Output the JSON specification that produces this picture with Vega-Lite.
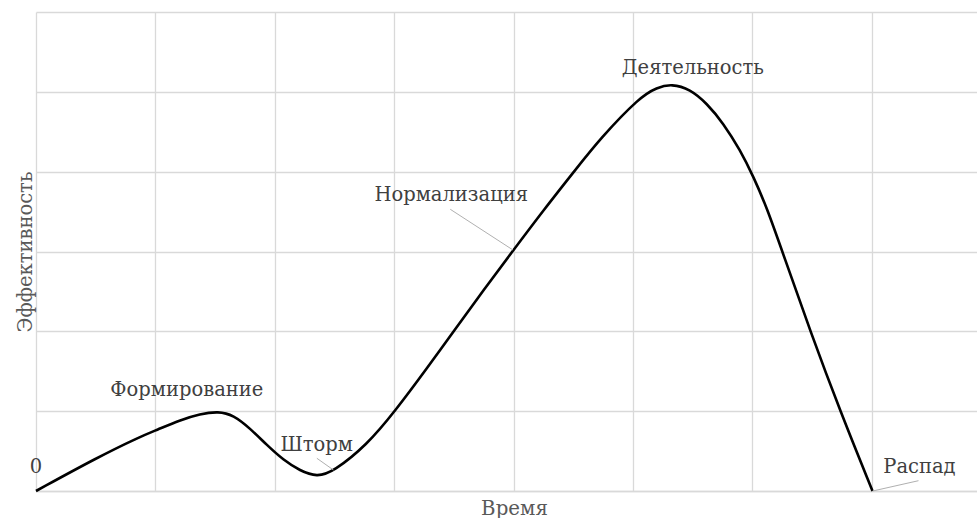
{
  "$schema": "https://vega.github.io/schema/vega-lite/v6.json",
  "width": 941,
  "height": 479,
  "autosize": {"type": "none"},
  "padding": {"left": 36, "top": 12, "right": 0, "bottom": 27},
  "background": "white",
  "config": {
    "view": {"stroke": null},
    "font": "DejaVu Serif"
  },
  "datasets": {
    "curve": [
      {"x": 0, "y": 0},
      {"x": 0.509, "y": 0.417},
      {"x": 0.871, "y": 0.68},
      {"x": 1.011, "y": 0.764},
      {"x": 1.206, "y": 0.889},
      {"x": 1.374, "y": 0.965},
      {"x": 1.527, "y": 0.998},
      {"x": 1.653, "y": 0.952},
      {"x": 1.792, "y": 0.785},
      {"x": 1.932, "y": 0.577},
      {"x": 2.071, "y": 0.388},
      {"x": 2.211, "y": 0.254},
      {"x": 2.352, "y": 0.175},
      {"x": 2.491, "y": 0.242},
      {"x": 2.771, "y": 0.576},
      {"x": 3.008, "y": 1.002},
      {"x": 3.274, "y": 1.537},
      {"x": 3.496, "y": 1.996},
      {"x": 3.748, "y": 2.518},
      {"x": 3.999, "y": 3.019},
      {"x": 4.251, "y": 3.52},
      {"x": 4.516, "y": 4.021},
      {"x": 4.726, "y": 4.418},
      {"x": 5.059, "y": 4.939},
      {"x": 5.199, "y": 5.054},
      {"x": 5.324, "y": 5.1},
      {"x": 5.477, "y": 5.033},
      {"x": 5.617, "y": 4.857},
      {"x": 5.756, "y": 4.606},
      {"x": 5.896, "y": 4.272},
      {"x": 6.008, "y": 3.937},
      {"x": 6.12, "y": 3.55},
      {"x": 6.259, "y": 2.96},
      {"x": 6.485, "y": 1.996},
      {"x": 6.736, "y": 0.993},
      {"x": 7.005, "y": 0}
    ],
    "labels": [
      {"x": 0, "y": 0.3, "label": "0"},
      {"x": 1.263, "y": 1.265, "label": "Формирование"},
      {"x": 2.35, "y": 0.576, "label": "Шторм"},
      {"x": 3.477, "y": 3.708, "label": "Нормализация"},
      {"x": 5.5, "y": 5.297, "label": "Деятельность"},
      {"x": 7.398, "y": 0.3, "label": "Распад"}
    ],
    "leaders": [
      {"x": 2.352, "y": 0.41, "x2": 2.491, "y2": 0.263},
      {"x": 3.469, "y": 3.529, "x2": 3.994, "y2": 3.019},
      {"x": 7.007, "y": 0, "x2": 7.39, "y2": 0.129}
    ]
  },
  "encoding": {
    "x": {
      "field": "x",
      "type": "quantitative",
      "scale": {"domain": [0, 7.88], "nice": false, "zero": false},
      "axis": {
        "title": "Время",
        "values": [0, 1, 2, 3, 4, 5, 6, 7],
        "labels": false,
        "ticks": false,
        "domain": true,
        "domainColor": "#d9d9d9",
        "domainWidth": 1.3,
        "grid": true,
        "gridColor": "#d9d9d9",
        "gridWidth": 1.3,
        "titleFont": "DejaVu Serif",
        "titleFontSize": 19.8,
        "titleFontWeight": "normal",
        "titleColor": "#595959",
        "titlePadding": 7,
        "titleX": 478
      }
    },
    "y": {
      "field": "y",
      "type": "quantitative",
      "scale": {"domain": [0, 6], "nice": false, "zero": false},
      "axis": {
        "title": "Эффективность",
        "values": [0, 1, 2, 3, 4, 5, 6],
        "labels": false,
        "ticks": false,
        "domain": false,
        "grid": true,
        "gridColor": "#d9d9d9",
        "gridWidth": 1.3,
        "titleFont": "DejaVu Serif",
        "titleFontSize": 19.5,
        "titleFontWeight": "normal",
        "titleColor": "#595959",
        "titlePadding": 1
      }
    }
  },
  "layer": [
    {
      "data": {"name": "curve"},
      "mark": {"type": "line", "interpolate": "basis", "color": "black", "strokeWidth": 2.6}
    },
    {
      "data": {"name": "leaders"},
      "mark": {"type": "rule", "color": "#b0b0b0", "strokeWidth": 1},
      "encoding": {
        "x2": {"field": "x2"},
        "y2": {"field": "y2"}
      }
    },
    {
      "data": {"name": "labels"},
      "mark": {"type": "text", "font": "DejaVu Serif", "fontSize": 19.5, "color": "#404040", "align": "center", "baseline": "middle"},
      "encoding": {
        "text": {"field": "label", "type": "nominal"}
      }
    }
  ]
}
